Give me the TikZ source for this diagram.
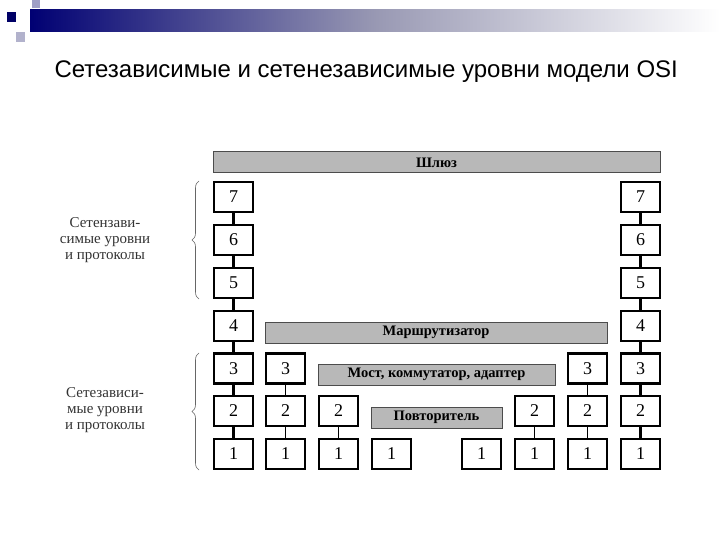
\documentclass[tikz,border=0pt]{standalone}
\usepackage{fontspec}
\setmainfont{Liberation Serif}
\newfontfamily\ttl{Liberation Sans}
\usetikzlibrary{decorations.pathreplacing}
\tikzset{
 lbox/.style={draw,line width=2.4pt,minimum width=39pt,minimum height=30pt,inner sep=0pt,font=\fontsize{18}{18}\selectfont},
 bar/.style={draw=black!70,fill=black!28,line width=1pt,inner sep=0pt,font=\bfseries\fontsize{14.5}{14.5}\selectfont},
 lk/.style={line width=2.4pt},
 lkt/.style={line width=0.8pt},
 br/.style={decorate,decoration={brace,amplitude=7pt,mirror},draw=black!60,line width=0.6pt},
 side/.style={align=center,font=\fontsize{15}{16}\selectfont,text=black!80}
}
\begin{document}
\begin{tikzpicture}[x=1pt,y=-1pt]
\useasboundingbox (0,0) rectangle (720,540);
\fill[white] (0,0) rectangle (720,540);
% header decoration
\shade[left color=blue!45!black,right color=white,middle color=blue!15!gray!70] (30,10) rectangle (720,32);
\fill[blue!25!gray!60] (32,0) rectangle (40,8);
\fill[blue!40!black] (7,12) rectangle (16,22);
\fill[blue!20!gray!50] (16,32) rectangle (25,42);
\node[font=\ttl\fontsize{24}{24}\selectfont,anchor=west] (title) at (51,72) {Сетезависимые и сетенезависимые уровни модели OSI};
% bars
\node[bar,minimum width=447pt,minimum height=21pt] (gw) at (436.5,162.5) {Шлюз};
\node[bar,minimum width=342pt,minimum height=21pt] (rt) at (436,332.5) {Маршрутизатор};
\node[bar,minimum width=237pt,minimum height=21pt] (bm) at (436.5,374.5) {Мост, коммутатор, адаптер};
\node[bar,minimum width=131pt,minimum height=21pt] (rp) at (436.5,417.5) {Повторитель};
% column 1 and 8
\foreach \cc/\xx in {a/233.5,h/640.5}{
 \foreach \rr/\yy in {7/197,6/240,5/283,4/326,3/368.5,2/411,1/454}{
  \node[lbox] (\cc\rr) at (\xx,\yy) {\rr};
 }
 \foreach \rr/\ss in {7/6,6/5,5/4,4/3,3/2,2/1} \draw[lk] (\cc\rr) -- (\cc\ss);
}
\foreach \cc/\xx in {b/285.5,g/587.5}{
 \foreach \rr/\yy in {3/368.5,2/411,1/454} \node[lbox] (\cc\rr) at (\xx,\yy) {\rr};
 \draw[lkt] (\cc3) -- (\cc2); \draw[lkt] (\cc2) -- (\cc1);
}
\foreach \cc/\xx in {c/338.5,f/534.5}{
 \foreach \rr/\yy in {2/411,1/454} \node[lbox] (\cc\rr) at (\xx,\yy) {\rr};
 \draw[lkt] (\cc2) -- (\cc1);
}
\node[lbox] (d1) at (391.5,454) {1};
\node[lbox] (e1) at (481.5,454) {1};
% braces
\draw[br] (199,181) -- (199,299);
\draw[br] (199,353) -- (199,470);
\node[side] (t1) at (105,240) {Сетензави-\\симые уровни\\и протоколы};
\node[side] (t2) at (105,410) {Сетезависи-\\мые уровни\\и протоколы};
\end{tikzpicture}
\end{document}
